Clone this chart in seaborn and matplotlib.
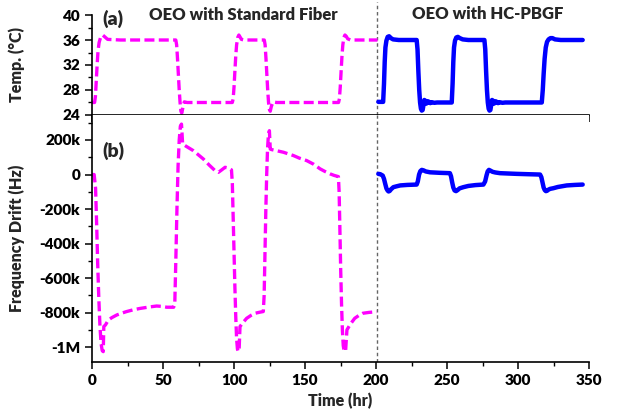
import matplotlib
matplotlib.use("Agg")
import matplotlib.pyplot as plt
from matplotlib.ticker import MultipleLocator, FixedLocator, FixedFormatter
import seaborn as sns

# --- OEO with standard fiber: chamber temperature (°C) vs time (hr)
std_temp_time = [0, 1.8, 2.4, 3.0, 3.6, 4.2, 5.0, 6.0, 7.5, 9.0, 11, 20, 40, 59.0, 59.6, 60.2,
                 60.8, 61.4, 62.0, 62.6, 63.2, 64.0, 65, 67, 70, 80, 90, 98.8, 99.4, 100.0,
                 100.6, 101.2, 101.8, 102.6, 103.4, 104.2, 105.2, 107, 110, 121.3, 121.9, 122.5,
                 123.1, 123.7, 124.3, 124.9, 125.5, 126.3, 127.5, 130, 140, 160, 173.6, 174.2,
                 174.8, 175.4, 176.0, 176.6, 177.3, 178.1, 179.0, 180.0, 182, 190, 201]
std_temp = [26, 26, 27, 29.5, 32, 34.2, 35.6, 36.4, 36.8, 36.5, 36.1, 36, 36, 36, 35.2, 33,
            30.5, 28, 26, 24.6, 24.3, 25.2, 26.1, 26, 26, 26, 26, 26, 26.6, 28.5,
            31, 33.4, 35.2, 36.4, 36.8, 36.5, 36.1, 36, 36, 36, 35.2, 33,
            30.5, 28, 26, 24.9, 24.6, 25.4, 26.1, 26, 26, 26, 26, 26.6,
            28.5, 31, 33.4, 35.2, 36.4, 36.8, 36.6, 36.2, 36, 36, 36]

# --- OEO with standard fiber: frequency drift (kHz) vs time (hr)
std_freq_time = [0, 1.5, 2.5, 3.3, 4.0, 4.8, 5.6, 6.4, 7.2, 7.9, 8.3, 9.5, 11.5, 14, 17.4, 21,
                 24.4, 29, 33.8, 40, 45.5, 49, 52.6, 57.5, 58.3, 59.0, 59.8, 60.6, 61.4, 62.2,
                 63.0, 63.4, 63.8, 66, 71.4, 78.4, 82.5, 86.6, 89, 91, 93.7, 96, 98.2, 98.8,
                 99.4, 100.0, 100.6, 101.2, 101.8, 102.4, 103.0, 103.6, 104.2, 106, 108.9, 112,
                 114.8, 118, 120.6, 121.2, 121.8, 122.4, 123.0, 123.6, 124.2, 124.9, 125.5,
                 126.2, 130, 134.8, 141.8, 146, 151.1, 156, 160.6, 164, 167.6, 170.5, 173.5,
                 174.0, 174.5, 175.1, 175.7, 176.3, 176.9, 177.5, 178.0, 178.6, 179.5, 182, 185,
                 188, 190.7, 195, 200.5]
std_freq_k = [0, 0, -80, -300, -520, -720, -880, -980, -1020, -1025, -880, -870, -842, -828,
              -813, -802, -793, -783, -775, -767, -761, -763, -768, -768, -740, -500, -200, 50,
              200, 280, 292, 235, 177, 165, 138, 90, 55, 23, 13, 25, 42, 38, 27, -50, -250,
              -450, -650, -820, -950, -1010, -1025, -1010, -880, -860, -832, -815, -803, -797,
              -793, -700, -450, -200, 0, 150, 230, 254, 148, 145, 138, 129, 110, 95, 81, 60,
              33, 18, 4, -5, -12, -100, -300, -550, -750, -900, -990, -1020, -1025, -1015,
              -899, -865, -832, -815, -803, -798, -794]

# --- OEO with HC-PBGF: chamber temperature (°C) vs time (hr)
hc_temp_time = [201.6, 203, 205, 205.6, 206.1, 206.6, 207.3, 208.2, 209.2, 210.5, 212, 216,
                228.6, 229.2, 229.8, 230.4, 231.0, 231.6, 232.2, 232.8, 233.4, 234.0, 234.6,
                235.2, 235.8, 236.5, 237.3, 238.2, 239.2, 241, 243, 253.3, 253.9, 254.4, 254.9,
                255.6, 256.5, 257.6, 259, 261, 265, 276.3, 276.9, 277.5, 278.1, 278.7, 279.3,
                279.9, 280.5, 281.1, 281.7, 282.3, 282.9, 283.5, 284.2, 285.0, 285.9, 286.9,
                289, 291, 316.7, 317.4, 318.0, 318.7, 319.5, 320.4, 321.5, 322.8, 324.2, 326,
                330, 345.5]
hc_temp = [26.1, 26.1, 26.1, 29, 32.5, 34.8, 35.9, 36.5, 36.6, 36.3, 36.1, 36,
           36, 34.5, 31, 28, 26, 25.0, 24.7, 24.8, 25.6, 26.4, 26.3,
           25.8, 25.9, 26.2, 26.1, 25.9, 26.05, 25.95, 26, 26, 29, 32.5, 34.8,
           35.9, 36.4, 36.5, 36.3, 36.1, 36, 36, 34.5, 31, 28, 26, 25.0,
           24.7, 24.8, 25.6, 26.4, 26.3, 25.8, 25.9, 26.2, 26.1, 25.9, 26.05,
           25.95, 26, 26, 28, 30.5, 33, 34.8, 35.7, 36.1, 36.3, 36.3, 36.1,
           36, 36]

# --- OEO with HC-PBGF: frequency drift (kHz) vs time (hr)
hc_freq_time = [201.6, 203, 204.7, 205.6, 206.5, 207.3, 208.1, 208.8, 209.6, 210.6, 212.2,
                214.5, 217, 222, 228.6, 229.4, 230.3, 231.2, 232.2, 233.5, 235, 238, 245, 252,
                252.8, 253.6, 254.4, 255.3, 256.3, 257.4, 258.8, 261.5, 265, 270, 275.6, 276.8,
                277.8, 278.6, 279.5, 280.7, 282, 284, 287.3, 293, 299, 307, 315.5, 316.4,
                317.2, 318.0, 318.8, 319.6, 320.4, 321.3, 322.5, 324.9, 328, 334.3, 340, 345.5]
hc_freq_k = [4, 2, -6, -25, -55, -80, -92, -98, -95, -85, -73, -68, -63, -60, -58, -40, 0, 20,
             27, 24, 18, 13, 10, 8, -10, -45, -75, -92, -96, -90, -80, -73, -66, -61, -58,
             -40, -5, 18, 27, 22, 16, 12, 8, 6, 4, 2, 0, -15, -45, -75, -90, -96, -94, -88,
             -83, -79, -72, -63, -60, -58]

# Axis ticks and labels
temp_ticks = [24, 28, 32, 36, 40]
freq_tick_values = [-1000000, -800000, -600000, -400000, -200000, 0, 200000]
freq_tick_labels = ["-1M", "-800k", "-600k", "-400k", "-200k", "0", "200k"]
time_ticks = [0, 50, 100, 150, 200, 250, 300, 350]
boundary_time = 201

STD_COLOR = "#FF00FF"
HC_COLOR = "#0000FF"
WEIGHT = "heavy"

sns.set_theme(style="ticks")
plt.rcParams["font.family"] = ["Lato", "DejaVu Sans"]
plt.rcParams["font.weight"] = WEIGHT
plt.rcParams["axes.labelweight"] = WEIGHT
plt.rcParams["axes.linewidth"] = 1.2
plt.rcParams["xtick.color"] = "black"
plt.rcParams["ytick.color"] = "black"
plt.rcParams["axes.edgecolor"] = "black"

fig = plt.figure(figsize=(6.26, 4.18), dpi=100)
ax_t = fig.add_axes([0.147, 0.7249, 0.794, 0.2392])
ax_f = fig.add_axes([0.147, 0.134, 0.794, 0.591])

std_dash = (0, (3.0, 1.3))

sns.lineplot(x=std_temp_time, y=std_temp, ax=ax_t, color=STD_COLOR, lw=2.4,
             linestyle=std_dash, sort=False, estimator=None)
sns.lineplot(x=hc_temp_time, y=hc_temp, ax=ax_t, color=HC_COLOR, lw=3.2,
             sort=False, estimator=None)

std_freq_hz = [v * 1000 for v in std_freq_k]
hc_freq_hz = [v * 1000 for v in hc_freq_k]
sns.lineplot(x=std_freq_time, y=std_freq_hz, ax=ax_f, color=STD_COLOR, lw=2.4,
             linestyle=std_dash, sort=False, estimator=None)
sns.lineplot(x=hc_freq_time, y=hc_freq_hz, ax=ax_f, color=HC_COLOR, lw=3.2,
             sort=False, estimator=None)

for ax in (ax_t, ax_f):
    ax.set_xlim(0, 350)
    ax.xaxis.set_major_locator(FixedLocator(time_ticks))
    ax.xaxis.set_minor_locator(MultipleLocator(25))
    ax.tick_params(axis="both", which="major", direction="out", length=5, width=1.1,
                   labelsize=11)
    ax.tick_params(axis="both", which="minor", direction="out", length=3, width=1.0)
    for side in ("top", "right"):
        ax.spines[side].set_visible(False)
    ax.axvline(boundary_time, color="#666666", lw=1.0, ls=(0, (2.5, 2.0)), zorder=0)

ax_t.set_ylim(24, 40)
ax_t.yaxis.set_major_locator(FixedLocator(temp_ticks))
ax_t.yaxis.set_minor_locator(MultipleLocator(2))
ax_t.tick_params(axis="x", which="both", labelbottom=False)
ax_t.set_ylabel("Temp. (°C)", fontsize=11.5, fontweight=WEIGHT)
ax_t.yaxis.set_label_coords(-0.135, 0.5)
ax_t.set_xlabel("")

# dividing line between the two fiber experiments extends above the upper panel
ax_t.axvline(boundary_time, ymin=1.0, ymax=1.13, color="#666666", lw=1.0,
             ls=(0, (2.5, 2.0)), clip_on=False)

ax_f.set_ylim(-1085000, 345000)
ax_f.yaxis.set_major_locator(FixedLocator(freq_tick_values))
ax_f.yaxis.set_major_formatter(FixedFormatter(freq_tick_labels))
ax_f.yaxis.set_minor_locator(MultipleLocator(100000))
ax_f.set_ylabel("Frequency Drift (Hz)", fontsize=11.5, fontweight=WEIGHT)
ax_f.yaxis.set_label_coords(-0.135, 0.5)
ax_f.set_xlabel("Time (hr)", fontsize=11.5, fontweight=WEIGHT)

for lbl in ax_f.get_xticklabels() + ax_f.get_yticklabels() + ax_t.get_yticklabels():
    lbl.set_fontweight(WEIGHT)

ax_t.text(0.02, 0.96, "(a)", transform=ax_t.transAxes, fontsize=14, fontweight=WEIGHT,
          ha="left", va="center")
ax_t.text(0.305, 1.0, "OEO with Standard Fiber", transform=ax_t.transAxes, fontsize=12,
          fontweight=WEIGHT, ha="center", va="center")
ax_t.text(0.797, 1.01, "OEO with HC-PBGF", transform=ax_t.transAxes, fontsize=12,
          fontweight=WEIGHT, ha="center", va="center")
ax_f.text(0.02, 0.855, "(b)", transform=ax_f.transAxes, fontsize=14, fontweight=WEIGHT,
          ha="left", va="center")

fig.savefig("out.png", dpi=100)
